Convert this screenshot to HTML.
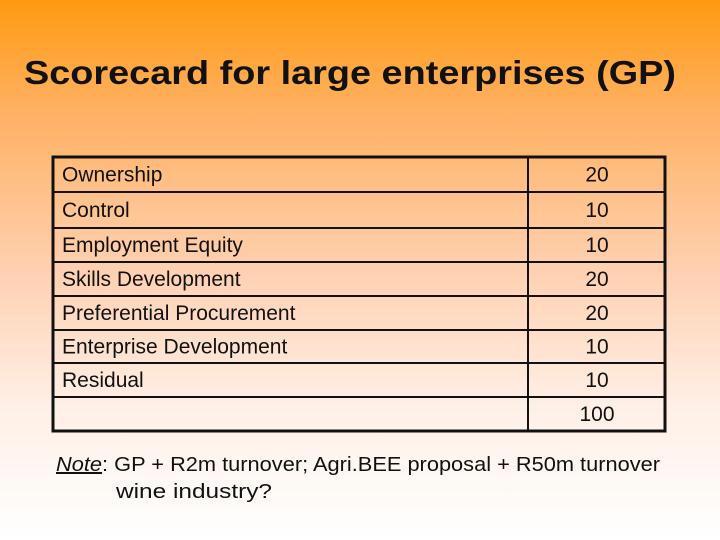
<!DOCTYPE html>
<html><head><meta charset="utf-8"><style>
html,body{margin:0;padding:0}
body{width:720px;height:540px;overflow:hidden;background:linear-gradient(180deg,#ff9a10 0%,#ffb060 20%,#ffd0b0 50%,#ffefe6 75%,#ffffff 100%);font-family:"Liberation Sans",sans-serif}
</style></head><body>
<svg width="720" height="540" style="position:absolute;left:0;top:0">
<text x="350" y="84" text-anchor="middle" font-family="Liberation Sans, sans-serif" font-weight="bold" font-size="33" textLength="652" lengthAdjust="spacingAndGlyphs" fill="#111">Scorecard for large enterprises (GP)</text>
<g id="tbl"></g>
<text x="56" y="471" font-size="20" font-family="Liberation Sans, sans-serif" fill="#111" textLength="604" lengthAdjust="spacingAndGlyphs"><tspan font-style="italic" text-decoration="underline">Note</tspan>: GP + R2m turnover; Agri.BEE proposal + R50m turnover</text>
<text x="116" y="498" font-size="20" font-family="Liberation Sans, sans-serif" fill="#111" textLength="156" lengthAdjust="spacingAndGlyphs">wine industry?</text>
</svg>
<script>
const categories=["Ownership","Control","Employment Equity","Skills Development","Preferential Procurement","Enterprise Development","Residual",""];
const points=["20","10","10","20","20","10","10","100"];
const rowEdges=[157,192,228,262,296,330,363,397,431];
const g=document.getElementById('tbl');
const NS='http://www.w3.org/2000/svg';
function mk(t,a){const e=document.createElementNS(NS,t);for(const k in a)e.setAttribute(k,a[k]);g.appendChild(e);return e;}
categories.forEach((c,i)=>{
  const y0=rowEdges[i],y1=rowEdges[i+1],cy=(y0+y1)/2+7;
  const t=mk('text',{x:62,y:cy,'font-size':21,'font-family':'Liberation Sans, sans-serif',fill:'#111'});
  t.textContent=c;
  
  
  const v=mk('text',{x:597,y:cy,'text-anchor':'middle','font-size':21,'font-family':'Liberation Sans, sans-serif',fill:'#111'});
  v.textContent=points[i];
  
  
});
for(let i=1;i<rowEdges.length-1;i++){
  const l=mk('line',{x1:53,x2:665,y1:rowEdges[i],y2:rowEdges[i],stroke:'#111','stroke-width':2});
  
  
}
const d=mk('line',{x1:528,x2:528,y1:157,y2:431,stroke:'#111','stroke-width':2});


const r=mk('rect',{x:53,y:157,width:612,height:274,fill:'none',stroke:'#111','stroke-width':3});


</script>
</body></html>
